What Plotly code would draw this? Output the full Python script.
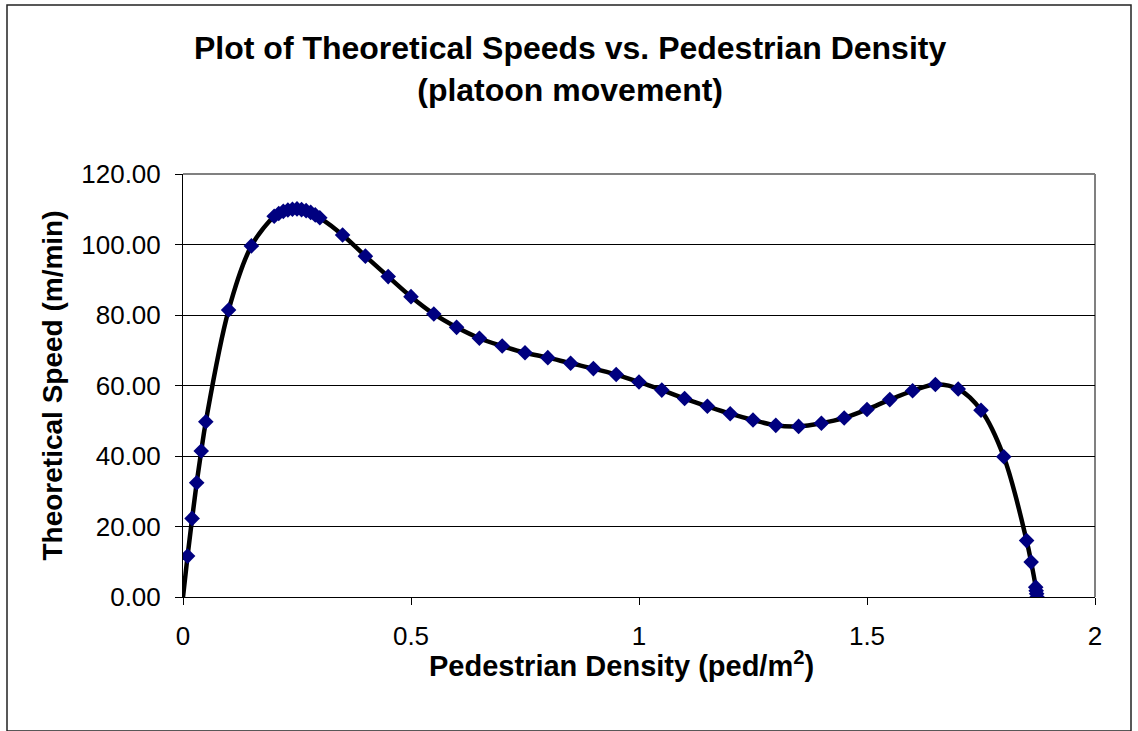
import plotly.graph_objects as go

# Data
density = [0.01, 0.02, 0.03, 0.04, 0.05, 0.10, 0.15,
           0.20, 0.21, 0.22, 0.23, 0.24, 0.25, 0.26, 0.27, 0.28, 0.29, 0.30,
           0.35, 0.40, 0.45, 0.50, 0.55, 0.60, 0.65, 0.70, 0.75, 0.80, 0.85,
           0.90, 0.95, 1.00, 1.05, 1.10, 1.15, 1.20, 1.25, 1.30, 1.35, 1.40,
           1.45, 1.50, 1.55, 1.60, 1.65, 1.70, 1.75, 1.80, 1.85, 1.86,
           1.870, 1.871, 1.872, 1.873]
speed = [11.6, 22.3, 32.4, 41.4, 49.7, 81.4, 99.6,
         108.0, 108.8, 109.4, 109.8, 110.0, 110.1, 109.9, 109.6, 109.1, 108.4, 107.6,
         102.7, 96.7, 90.9, 85.2, 80.3, 76.5, 73.4, 71.2, 69.3, 67.9, 66.3,
         64.8, 63.1, 61.0, 58.7, 56.3, 54.1, 52.0, 50.2, 48.7, 48.4, 49.3,
         50.8, 53.2, 56.0, 58.5, 60.3, 59.0, 53.0, 39.8, 16.0, 9.9,
         2.8, 1.8, 0.9, 0.0]
origin_density = [0.0]
origin_speed = [0.0]

x_ticks = [0, 0.5, 1, 1.5, 2]
x_tick_text = ["0", "0.5", "1", "1.5", "2"]
y_ticks = [0, 20, 40, 60, 80, 100, 120]

title_text = "Plot of Theoretical Speeds vs. Pedestrian Density<br>(platoon movement)"
x_title = "Pedestrian Density (ped/m<sup>2</sup>)"
y_title = "Theoretical Speed (m/min)"

FONT = "Liberation Sans, Arial, sans-serif"

fig = go.Figure()
fig.add_trace(go.Scatter(
    x=origin_density + density, y=origin_speed + speed,
    mode="lines", line=dict(color="black", width=4.5, shape="spline", smoothing=1.0),
    showlegend=False, hoverinfo="skip"))
fig.add_trace(go.Scatter(
    x=density, y=speed, mode="markers",
    marker=dict(symbol="diamond", size=12, color="#000080", line=dict(width=0)),
    showlegend=False))

L, R, T, B = 183, 43, 174, 134
W, H = 1138, 731
pw, ph = W - L - R, H - T - B

def px_x(p):
    return (p - L) / pw

def px_y(p):
    return (H - B - p) / ph

shapes = [
    dict(type="line", xref="paper", yref="paper", x0=0, x1=1, y0=1, y1=1,
         line=dict(color="#808080", width=2), layer="below"),
    dict(type="line", xref="paper", yref="paper", x0=1, x1=1, y0=0, y1=1,
         line=dict(color="#808080", width=2), layer="below"),
    dict(type="rect", xref="paper", yref="paper",
         x0=px_x(7), x1=px_x(1131), y0=px_y(731), y1=px_y(5),
         line=dict(color="#222222", width=1.5), layer="below"),
]

annotations = [
    dict(text="<b>" + title_text + "</b>", xref="paper", yref="paper",
         x=px_x(570), y=px_y(69), xanchor="center", yanchor="middle",
         showarrow=False, align="center",
         font=dict(size=32, family=FONT, color="black")),
    dict(text="<b>" + x_title + "</b>", xref="paper", yref="paper",
         x=px_x(621), y=px_y(664), xanchor="center", yanchor="middle",
         showarrow=False, font=dict(size=29, family=FONT, color="black")),
]

fig.update_layout(
    width=W, height=H,
    margin=dict(l=L, r=R, t=T, b=B),
    paper_bgcolor="white", plot_bgcolor="white",
    font=dict(family=FONT, color="black"),
    shapes=shapes,
    annotations=annotations,
    xaxis=dict(range=[0, 2], tickvals=x_ticks, ticktext=x_tick_text,
               showgrid=False, zeroline=False,
               showline=True, linecolor="black", linewidth=1,
               ticks="outside", ticklen=7, tickcolor="black",
               ticklabelstandoff=9,
               tickfont=dict(size=26, family=FONT)),
    yaxis=dict(range=[0, 120], tickvals=y_ticks, tickformat=".2f",
               showgrid=True, gridcolor="black", gridwidth=1, zeroline=False,
               showline=True, linecolor="black", linewidth=1,
               ticks="outside", ticklen=7, tickcolor="black",
               ticklabelstandoff=9,
               tickfont=dict(size=26, family=FONT),
               title=dict(text="<b>" + y_title + "</b>", font=dict(size=28, family=FONT), standoff=10)),
)

fig.write_html("out.html", config={"displayModeBar": False},
               post_script="document.body.style.margin='0';")
